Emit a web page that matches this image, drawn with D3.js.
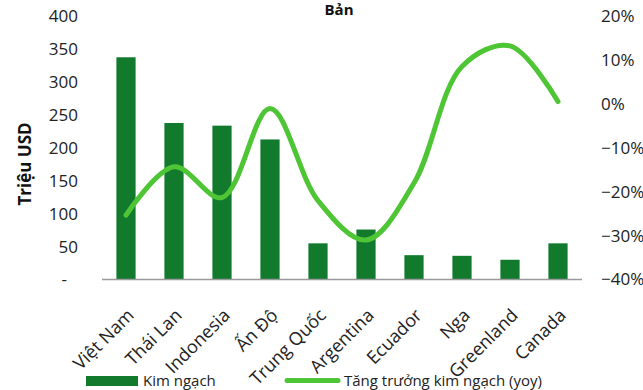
<!DOCTYPE html>
<html><head><meta charset="utf-8">
<script src="https://cdn.jsdelivr.net/npm/d3@7"></script>
<style>body{margin:0;background:#fff}svg{display:block;font-family:"Open Sans",sans-serif}</style>
</head><body>
<svg id="c" width="643" height="390"></svg>
<script>
const categories = ["Việt Nam","Thái Lan","Indonesia","Ấn Độ","Trung Quốc","Argentina","Ecuador","Nga","Greenland","Canada"];
const kimNgach = [338,238,234,213,55,76,37,36,30,55];
const tangTruong = [-0.253,-0.143,-0.213,-0.01,-0.22,-0.31,-0.18,0.086,0.133,0.006];
const leftTicks = [0,50,100,150,200,250,300,350,400];
const rightTicks = [-0.4,-0.3,-0.2,-0.1,0,0.1,0.2];
const titleText = "Bản";
const yTitle = "Triệu USD";
const legendLabels = ["Kim ngạch","Tăng trưởng kim ngạch (yoy)"];

const svg = d3.select("#c");
const barColor = "#117a2c", lineColor = "#4ec534";
const x = d3.scaleBand().domain(categories).range([102,582]).paddingInner(0.6).paddingOuter(0.3);
const yL = d3.scaleLinear().domain([0,400]).range([279.5,16.5]);
const yR = d3.scaleLinear().domain([-0.4,0.2]).range([279.5,16.5]);

// bars
svg.append("g").selectAll("rect").data(kimNgach).join("rect")
  .attr("x",(d,i)=>x(categories[i])).attr("width",x.bandwidth())
  .attr("y",d=>yL(d)).attr("height",d=>yL(0)-yL(d)).attr("fill",barColor);

// baseline
svg.append("line").attr("x1",102).attr("x2",582).attr("y1",yL(0)).attr("y2",yL(0))
  .attr("stroke","#9a9a9a").attr("stroke-width",1.5);

// line
const line = d3.line().x((d,i)=>x(categories[i])+x.bandwidth()/2).y(d=>yR(d)).curve(d3.curveCatmullRom.alpha(0.5));
svg.append("path").datum(tangTruong).attr("d",line).attr("fill","none")
  .attr("stroke",lineColor).attr("stroke-width",5).attr("stroke-linecap","round");

// left axis
const gl = svg.append("g").attr("transform","translate(78,0)")
  .call(d3.axisLeft(yL).tickValues(leftTicks).tickSize(0).tickPadding(0).tickFormat(d=>d===0?"-":d));
gl.select(".domain").remove();
gl.selectAll("text").attr("font-size",17).attr("fill","#222").attr("font-family","Open Sans");
gl.selectAll("text").filter(d=>d===0).attr("dx",-11);

// right axis
const gr = svg.append("g").attr("transform","translate(601,0)")
  .call(d3.axisRight(yR).tickValues(rightTicks).tickSize(0).tickPadding(0).tickFormat(d3.format(".0%")));
gr.select(".domain").remove();
gr.selectAll("text").attr("font-size",17).attr("fill","#222").attr("font-family","Open Sans");

// x labels
const gx = svg.append("g").attr("transform",`translate(0,${yL(0)})`)
  .call(d3.axisBottom(x).tickSize(0).tickPadding(0));
gx.select(".domain").remove();
gx.selectAll("text").attr("font-size",18).attr("fill","#222").attr("font-family","Open Sans")
  .attr("text-anchor","end").attr("dy",0).attr("y",0)
  .attr("transform","translate(9,37) rotate(-45)");

// title
svg.append("text").attr("x",339).attr("y",15).attr("text-anchor","middle")
  .attr("font-weight","bold").attr("font-size",15).attr("fill","#111").text(titleText);
svg.append("text").attr("transform","translate(31,164) rotate(-90)").attr("text-anchor","middle")
  .attr("font-weight","bold").attr("font-size",17).attr("fill","#111").text(yTitle);

// legend
const lg = svg.append("g");
lg.append("rect").attr("x",86).attr("y",376).attr("width",52).attr("height",10).attr("fill",barColor);
lg.append("text").attr("x",143).attr("y",386).attr("font-size",15).attr("fill","#222").text(legendLabels[0]);
lg.append("line").attr("x1",287).attr("x2",338).attr("y1",380.5).attr("y2",380.5)
  .attr("stroke",lineColor).attr("stroke-width",5).attr("stroke-linecap","round");
lg.append("text").attr("x",344).attr("y",386).attr("font-size",15).attr("fill","#222").text(legendLabels[1]);
</script>
</body></html>
